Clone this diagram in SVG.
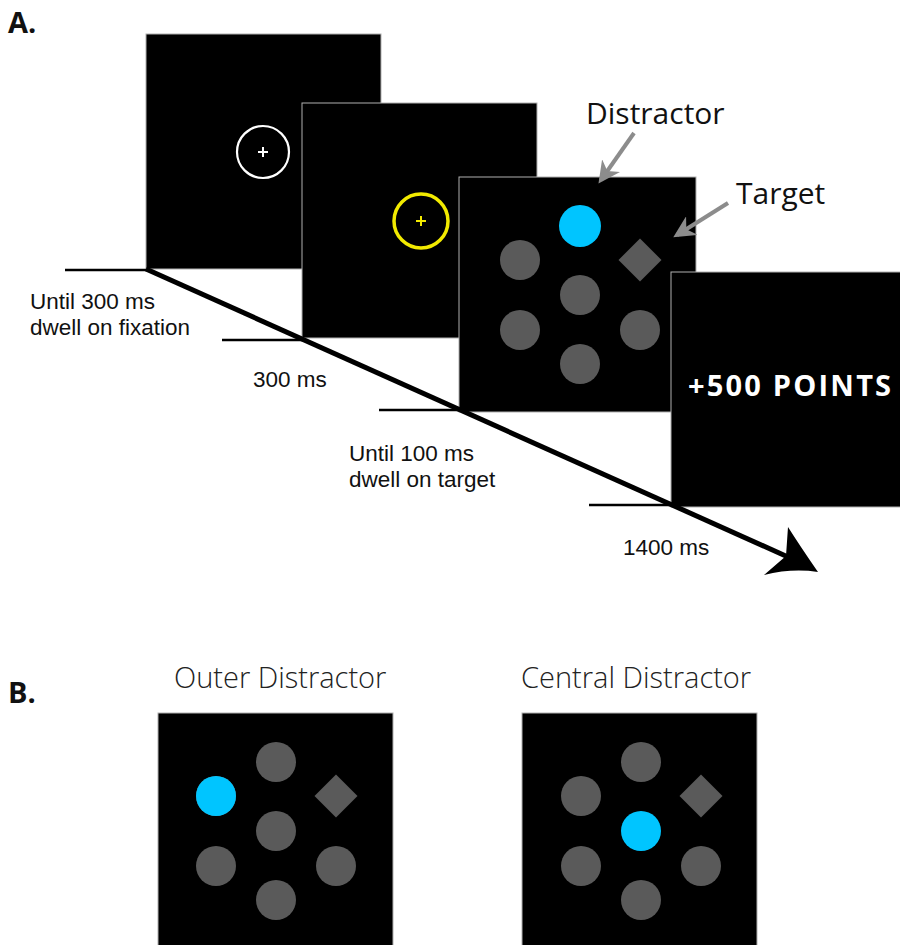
<svg xmlns="http://www.w3.org/2000/svg" width="900" height="945" viewBox="0 0 900 945">
  <style>
    .screen { fill: #000; stroke: #b0b0b0; stroke-width: 1; }
    .item { fill: #5a5a5a; }
    .cue { fill: #00c5ff; }
    .tick { stroke: #000; stroke-width: 2.5; fill: none; }
    .axis { stroke: #000; stroke-width: 5; fill: none; }
    .pointer { stroke: #8c8c8c; stroke-width: 4; fill: none; }
    .lbl { font-family: "Liberation Sans", Arial, sans-serif; font-size: 22.5px; fill: #111; }
    .big { font-family: "Open Sans", "Liberation Sans", sans-serif; font-size: 30px; fill: #111; }
    .title { font-family: "Open Sans", "Liberation Sans", sans-serif; font-size: 29px; fill: #222; font-weight: 300; }
    .panel-letter { font-family: "Open Sans", "Liberation Sans", sans-serif; font-size: 29px; font-weight: bold; fill: #111; }
  </style>
  <defs>
    <marker id="greyHead" viewBox="0 0 10 10" refX="8" refY="5" markerWidth="5.5" markerHeight="5.5" orient="auto" markerUnits="strokeWidth">
      <path d="M0,0 L10,5 L0,10 L3,5 Z" fill="#8c8c8c"/>
    </marker>
    <!-- search array: six grey items in a hexagon around a centre item -->
    <g id="ring">
      <circle class="item" cx="0" cy="-69" r="20"/>
      <circle class="item" cx="-60" cy="-35" r="20"/>
      <circle class="item" cx="-60" cy="35" r="20"/>
      <circle class="item" cx="60" cy="35" r="20"/>
      <circle class="item" cx="0" cy="69" r="20"/>
      <path class="item" d="M60,-56.5 L81.5,-35 L60,-13.5 L38.5,-35 Z"/>
    </g>
  </defs>

  <text class="panel-letter" x="8" y="33">A.</text>

  <!-- fixation screen -->
  <g id="fixation">
    <rect class="screen" x="146" y="34" width="235" height="235"/>
    <circle cx="263" cy="152" r="26" fill="none" stroke="#fff" stroke-width="2.2"/>
    <path d="M258,152 H268 M263,147 V157" stroke="#fff" stroke-width="2"/>
  </g>

  <!-- fixation confirmed screen -->
  <g id="fixation-confirmed">
    <rect class="screen" x="302" y="103" width="235" height="235"/>
    <circle cx="421" cy="221" r="27" fill="none" stroke="#f2ea00" stroke-width="3.5"/>
    <path d="M416,221 H426 M421,216 V226" stroke="#f2ea00" stroke-width="2"/>
  </g>

  <!-- search display -->
  <g id="search">
    <rect class="screen" x="459" y="177" width="237" height="235"/>
    <use href="#ring" x="580" y="295"/>
    <circle class="item" cx="580" cy="295" r="20"/>
    <circle class="item" cx="580" cy="226" r="21" style="fill:#00c5ff"/>
  </g>

  <!-- feedback screen -->
  <g id="feedback">
    <rect class="screen" x="671" y="272" width="240" height="235"/>
    <text x="688" y="396" font-family="'Open Sans', 'Liberation Sans', sans-serif" font-size="29" font-weight="bold" fill="#fff" letter-spacing="2.2">+500 POINTS</text>
  </g>

  <!-- labels pointing into the search display -->
  <g id="distractor-label">
    <text class="big" x="586" y="124">Distractor</text>
  </g>
  <g id="target-label">
    <text class="big" x="736" y="204">Target</text>
  </g>

  <g id="connectors">
    <line class="pointer" x1="634" y1="133" x2="601" y2="180" marker-end="url(#greyHead)"/>
    <line class="pointer" x1="728" y1="203" x2="677" y2="235" marker-end="url(#greyHead)"/>

    <!-- time axis with event ticks -->
    <line class="tick" x1="65" y1="270" x2="147" y2="270"/>
    <line class="tick" x1="222" y1="340" x2="303" y2="340"/>
    <line class="tick" x1="379" y1="410" x2="461" y2="410"/>
    <line class="tick" x1="589" y1="505" x2="672" y2="505"/>
    <line class="axis" x1="146" y1="269" x2="788" y2="557"/>
    <path d="M818,572 Q800,546 788,527 L786,556 L764,575 Q792,568 818,572 Z" fill="#000"/>
  </g>

  <g id="timing-labels">
    <text class="lbl" x="30" y="309">Until 300 ms</text>
    <text class="lbl" x="30" y="335">dwell on fixation</text>
    <text class="lbl" x="253" y="387">300 ms</text>
    <text class="lbl" x="349" y="461">Until 100 ms</text>
    <text class="lbl" x="349" y="487">dwell on target</text>
    <text class="lbl" x="623" y="555">1400 ms</text>
  </g>

  <text class="panel-letter" x="8" y="703">B.</text>

  <g id="outer-distractor">
    <text class="title" x="174" y="688">Outer Distractor</text>
    <rect class="screen" x="158" y="713" width="235" height="240"/>
    <use href="#ring" x="276" y="831"/>
    <circle class="item" cx="276" cy="831" r="20"/>
    <circle class="cue" cx="216" cy="796" r="20"/>
  </g>

  <g id="central-distractor">
    <text class="title" x="521" y="688">Central Distractor</text>
    <rect class="screen" x="522" y="713" width="235" height="240"/>
    <use href="#ring" x="641" y="831"/>
    <circle class="cue" cx="641" cy="831" r="20"/>
  </g>
</svg>
